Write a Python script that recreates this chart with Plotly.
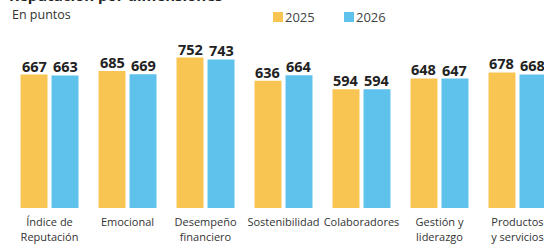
import plotly.graph_objects as go

categories = ["Índice de<br>Reputación<br>Corporativa", "Emocional", "Desempeño<br>financiero",
              "Sostenibilidad", "Colaboradores", "Gestión y<br>liderazgo", "Productos<br>y servicios"]
values_2025 = [667, 685, 752, 636, 594, 648, 678]
values_2026 = [663, 669, 743, 664, 594, 647, 668]
series_names = ["2025", "2026"]

ORANGE = "#F9C552"
BLUE = "#5EC2EC"
TXT = "#222222"

W, H = 544, 247
T, B = 30, 39
PH = H - T - B
BARGAP, GROUPGAP = 0.205, 0.13
PX_PER_CAT = 78.0
SLOT_PX = PX_PER_CAT * (1 - BARGAP) / 2

def py(p):
    return (H - B - p) / PH

fig = go.Figure()
series = [(series_names[0], values_2025, ORANGE), (series_names[1], values_2026, BLUE)]
for k, (name, vals, col) in enumerate(series):
    fig.add_trace(go.Bar(
        x=categories, y=vals, name=name, marker_color=col, marker_line_width=0,
        showlegend=False, hoverinfo="skip",
    ))
    shift = (k - 0.5) * SLOT_PX
    for c, v in zip(categories, vals):
        fig.add_annotation(x=c, y=v, xref="x", yref="y", text=f"<b>{v}</b>",
                           xanchor="center", yanchor="bottom", showarrow=False,
                           xshift=shift, yshift=-3,
                           font=dict(family="Open Sans", size=14.5, color=TXT))

fig.update_layout(
    width=W, height=H,
    margin=dict(l=0, r=0, t=T, b=B, autoexpand=False),
    paper_bgcolor="white", plot_bgcolor="white",
    barmode="group", bargap=BARGAP, bargroupgap=GROUPGAP,
    font=dict(family="Open Sans", color="#333333"),
    xaxis=dict(range=[-0.635, 6.34], showgrid=False, showline=False, zeroline=False,
               automargin=False,
               ticks="outside", ticklen=4, tickcolor="rgba(0,0,0,0)",
               tickfont=dict(family="Open Sans", size=11, color="#333333")),
    yaxis=dict(range=[0, PH / 0.2], visible=False, showgrid=False, zeroline=False,
               automargin=False),
)

# Partially visible title at top edge
fig.add_annotation(text="<b>Reputación por dimensiones</b>", xref="paper", yref="paper",
                   x=0.012, y=py(7), xanchor="left", yanchor="bottom", showarrow=False,
                   font=dict(family="Open Sans", size=15, color=TXT))
fig.add_annotation(text="En puntos", xref="paper", yref="paper",
                   x=10 / W, y=py(14), xanchor="left", yanchor="middle", showarrow=False,
                   font=dict(family="Open Sans", size=12.5, color="#333333"))

# Manual legend
for name, col, x0 in [(series_names[0], ORANGE, 273), (series_names[1], BLUE, 344)]:
    fig.add_shape(type="rect", xref="paper", yref="paper",
                  x0=x0 / W, x1=(x0 + 10) / W, y0=py(22), y1=py(12),
                  fillcolor=col, line_width=0)
    fig.add_annotation(text=name, xref="paper", yref="paper",
                       x=(x0 + 10) / W, y=py(17), xanchor="left", yanchor="middle",
                       showarrow=False,
                       font=dict(family="Open Sans", size=13, color="#444444"))

fig.write_html("out.html", config={"displayModeBar": False},
               post_script="document.body.style.margin='0';document.body.style.overflow='hidden';")
